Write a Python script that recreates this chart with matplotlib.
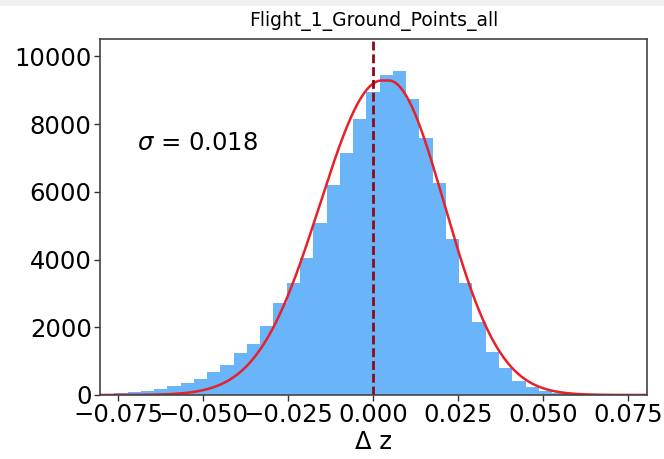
import numpy as np
import matplotlib
matplotlib.use("Agg")
import matplotlib.pyplot as plt
from matplotlib.patches import Rectangle

# ---- data ----
bin_edges = np.linspace(-0.08, 0.08, 42)
counts = [25, 50, 80, 120, 180, 255, 355, 485, 690, 880,
          1240, 1510, 2048, 2708, 3318, 4056, 5090, 6203, 7157, 8160,
          8960, 9440, 9571, 8750, 7583, 6254, 4599, 3299, 2166, 1270,
          790, 410, 245, 115, 60, 35, 20, 12, 8, 5, 3]
# fitted curve as drawn (slightly asymmetric): peak height, left/right centre and width
fit_peak = 9290
fit_mu_left, fit_sigma_left = 0.0026, 0.0182
fit_mu_right, fit_sigma_right = 0.0046, 0.0164
sigma_label = r"$\sigma$ = 0.018"
title = "Flight_1_Ground_Points_all"
xticks = [-0.075, -0.050, -0.025, 0.000, 0.025, 0.050, 0.075]
yticks = [0, 2000, 4000, 6000, 8000, 10000]

fig = plt.figure(figsize=(6.64, 4.59), dpi=100)
fig.patches.append(Rectangle((0, 1 - 6 / 459), 1, 6 / 459, transform=fig.transFigure,
                             facecolor="#f0f0f0", edgecolor="none", zorder=0))
ax = fig.add_axes([100 / 664, 1 - 395 / 459, 547 / 664, (395 - 38.5) / 459])

ax.stairs(counts, bin_edges, fill=True, color="#6ab4fa", linewidth=0)

xs = np.linspace(-0.08, 0.08, 800)
ys = np.where(xs < fit_mu_left,
              fit_peak * np.exp(-(xs - fit_mu_left) ** 2 / (2 * fit_sigma_left ** 2)),
              np.where(xs > fit_mu_right,
                       fit_peak * np.exp(-(xs - fit_mu_right) ** 2 / (2 * fit_sigma_right ** 2)),
                       fit_peak))
ax.plot(xs, ys, color="#e8202a", lw=1.8)
ax.axvline(0.0, color="#8b0a1a", lw=2, linestyle=(0, (3.2, 1.4)))

ax.text(-0.0695, 7450, sigma_label, fontsize=17.5, va="center", ha="left")
ax.set_title(title, fontsize=13.5, pad=9)
ax.set_xlabel("Δ z", fontsize=17.5, labelpad=2)

ax.set_xlim(-0.0803, 0.0806)
ax.set_ylim(0, 10530)
ax.set_xticks(xticks)
ax.set_yticks(yticks)
ax.tick_params(labelsize=17.5, length=4, width=1, color="#333333", pad=2)
for s in ax.spines.values():
    s.set_color("#444444")
    s.set_linewidth(1.2)

fig.savefig("out.png", dpi=100)
